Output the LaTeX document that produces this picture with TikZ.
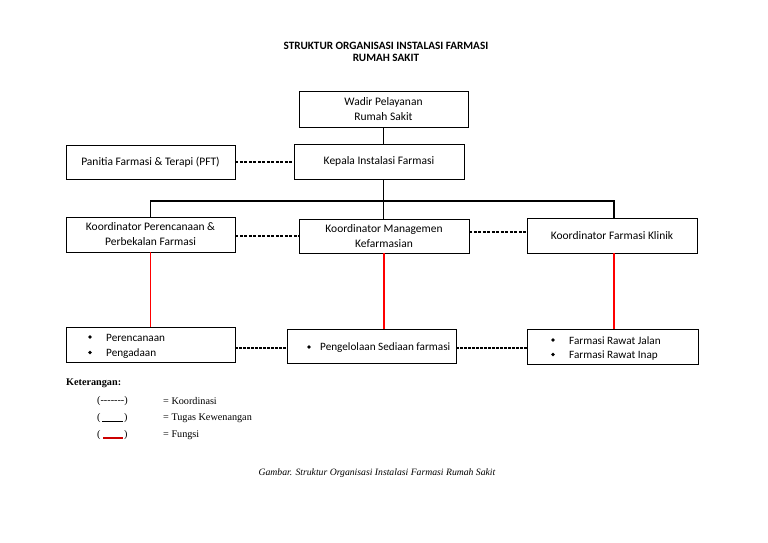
\documentclass[tikz,border=0pt]{standalone}
\usepackage{fontspec}
\setmainfont{Carlito}
\newfontfamily\timesf{Liberation Serif}
\begin{document}
\begin{tikzpicture}[x=1pt,y=-1pt,
  box/.style={draw,line width=0.8pt,inner sep=0pt,font=\fontsize{11.5}{15}\selectfont,align=center},
  btxt/.style={anchor=west,inner sep=0pt,font=\fontsize{11.2}{15}\selectfont},
  bul/.style={circle,fill=black,inner sep=0pt,minimum size=3.6pt},
  tug/.style={line width=1.4pt},
  koord/.style={dash pattern=on 3pt off 1.5pt,line width=1.4pt},
  koordb/.style={dash pattern=on 3pt off 1pt,line width=2pt},
  fung/.style={draw=red,line width=1.8pt},
  leg/.style={font=\timesf\fontsize{10.2}{12}\selectfont,anchor=west,inner sep=0pt}]
\useasboundingbox (0,0) rectangle (768,543);
\node[font=\bfseries\fontsize{11.2}{12.5}\selectfont,align=center] (title) at (386,52) {STRUKTUR ORGANISASI INSTALASI FARMASI\\RUMAH SAKIT};
\node[box,minimum width=169pt,minimum height=36pt] (wadir) at (383.5,109) {Wadir Pelayanan\\Rumah Sakit};
\node[box,minimum width=170pt,minimum height=35pt] (kepala) at (379,161.5) {Kepala Instalasi Farmasi};
\node[box,minimum width=169pt,minimum height=34pt] (pft) at (150.5,162) {Panitia Farmasi \& Terapi (PFT)};
\node[box,minimum width=169pt,minimum height=35pt] (k1) at (150.5,234.5) {Koordinator Perencanaan \&\\Perbekalan Farmasi};
\node[box,minimum width=170pt,minimum height=34pt] (k2) at (384,236) {Koordinator Managemen\\Kefarmasian};
\node[box,minimum width=170pt,minimum height=35pt] (k3) at (612,235.5) {Koordinator Farmasi Klinik};
\node[box,minimum width=169pt,minimum height=35pt] (b1) at (150.5,344.5) {};
\node[box,minimum width=169pt,minimum height=34pt] (b2) at (371.5,346) {};
\node[box,minimum width=171pt,minimum height=35pt] (b3) at (612.5,346.5) {};
\node[bul] (b1ad) at (90,337) {};
\node[btxt] (b1a) at (106,338) {Perencanaan};
\node[bul] (b1bd) at (90,352.5) {};
\node[btxt] (b1b) at (106,353.5) {Pengadaan};
\node[bul] (b2ad) at (309,347) {};
\node[btxt] (b2a) at (320,348) {Pengelolaan Sediaan farmasi};
\node[bul] (b3ad) at (553,340) {};
\node[btxt] (b3a) at (569,341) {Farmasi Rawat Jalan};
\node[bul] (b3bd) at (553,354.5) {};
\node[btxt] (b3b) at (569,355.5) {Farmasi Rawat Inap};
% tugas
\draw[tug] (wadir.south) -- (kepala.north -| wadir.south);
\coordinate (hb) at (383.5,201);
\draw[tug] (kepala.south -| hb) -- (hb);
\draw[tug] (k1.north) |- (hb);
\draw[tug] (hb) -| (k3.north -| 614,0);
\draw[tug] (hb) -- (k2.north -| hb);
% koordinasi
\draw[koord] (pft.east) -- (kepala.west |- pft.east);
\draw[koord] (k1.east |- 0,236) -- (k2.west |- 0,236);
\draw[koord] (k2.east |- 0,232) -- (k3.west |- 0,232);
\draw[koordb] (b1.east |- 0,348) -- (b2.west |- 0,348);
\draw[koordb] (b2.east |- 0,348) -- (b3.west |- 0,348);
% fungsi
\coordinate (f2a) at (384,253);
\coordinate (f2b) at (384,329);
\coordinate (f3a) at (614,253);
\coordinate (f3b) at (614,329);
\draw[draw=red,line width=0.8pt] (k1.south) -- (b1.north -| k1.south);
\draw[fung] (f2a) -- (f2b);
\draw[fung] (f3a) -- (f3b);
% legend
\node[leg,font=\timesf\bfseries\fontsize{10.2}{12}\selectfont] (ket) at (66,383) {Keterangan:};
\node[leg] (l1) at (97,401) {(-------)};
\node[leg] (l1t) at (163,401) {= Koordinasi};
\node[leg] (l2a) at (97,418) {(};
\node[leg] (l2b) at (124,418) {)};
\draw[line width=0.9pt] (102,421) -- (123,421);
\node[leg] (l2t) at (163,418) {= Tugas Kewenangan};
\node[leg] (l3a) at (97,435.5) {(};
\node[leg] (l3b) at (124,435.5) {)};
\draw[red!80!black,line width=1.8pt] (103,438) -- (123,438);
\node[leg] (l3t) at (163,435.5) {= Fungsi};
\node[font=\timesf\itshape\fontsize{9.7}{11}\selectfont] (cap) at (377,473) {Gambar. Struktur Organisasi Instalasi Farmasi Rumah Sakit};
\end{tikzpicture}
\end{document}
